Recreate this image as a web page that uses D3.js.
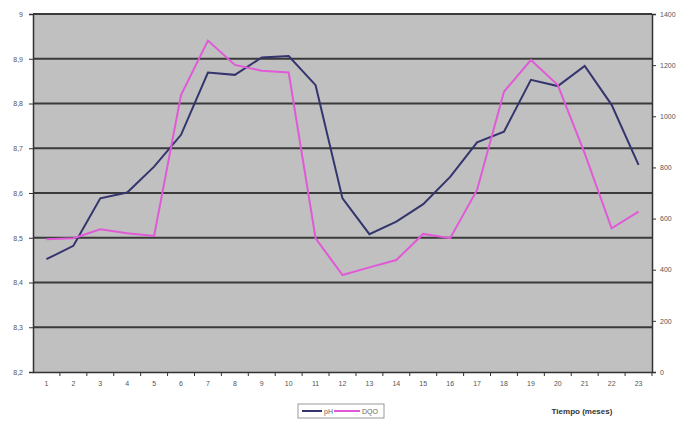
<!DOCTYPE html>
<html>
<head>
<meta charset="utf-8">
<script src="https://cdn.jsdelivr.net/npm/d3@7"></script>
<style>
  body { margin: 0; background: #fff; }
  svg { display: block; font-family: Arial, "Liberation Sans", sans-serif; }
</style>
</head>
<body>
<div id="graph"></div>
<script>
// Data ////////////////////////////////////////////////////////////////
const months = d3.range(1, 24);
const ph = [8.452, 8.482, 8.588, 8.601, 8.659, 8.730, 8.869, 8.864, 8.903, 8.906,
  8.841, 8.588, 8.508, 8.536, 8.575, 8.636, 8.713, 8.737, 8.853, 8.839, 8.884, 8.797, 8.663];
const dqo = [519, 523, 558, 543, 532, 1083, 1296, 1201, 1178, 1171,
  523, 379, 409, 438, 540, 523, 712, 1096, 1220, 1122, 855, 562, 627];
const leftTicks = [8.2, 8.3, 8.4, 8.5, 8.6, 8.7, 8.8, 8.9, 9];
const rightTicks = [0, 200, 400, 600, 800, 1000, 1200, 1400];
const seriesNames = ["pH", "DQO"];
const xTitle = "Tiempo (meses)";

// Constants ////////////////////////////////////////////////////////////////
const svgWidth = 680;
const svgHeight = 421;
const margin = { top: 14, right: 28, bottom: 49, left: 33 };
const plotW = svgWidth - margin.left - margin.right;
const plotH = svgHeight - margin.top - margin.bottom;

const svg = d3.select("#graph")
  .append("svg")
  .attr("width", svgWidth)
  .attr("height", svgHeight);

const x = d3.scaleBand().domain(months).range([margin.left, margin.left + plotW]);
const yL = d3.scaleLinear().domain([8.2, 9]).range([margin.top + plotH, margin.top]);
const yR = d3.scaleLinear().domain([0, 1400]).range([margin.top + plotH, margin.top]);

// Plot background
svg.append("rect")
  .attr("x", margin.left)
  .attr("y", margin.top)
  .attr("width", plotW)
  .attr("height", plotH)
  .style("fill", "#c0c0c0");

// Gridlines
svg.append("g")
  .selectAll("line")
  .data(leftTicks.slice(1))
  .join("line")
  .attr("x1", margin.left)
  .attr("x2", margin.left + plotW)
  .attr("y1", d => yL(d))
  .attr("y2", d => yL(d))
  .style("stroke", "#3a3a3a")
  .style("stroke-width", 2);

// Axes
const fmt = d => (d === 9 ? "9" : d3.format(".1f")(d).replace(".", ","));
const leftAxis = svg.append("g")
  .attr("transform", `translate(${margin.left},0)`)
  .call(d3.axisLeft(yL).tickValues(leftTicks).tickFormat(fmt).tickSize(4).tickPadding(6));

const rightAxis = svg.append("g")
  .attr("transform", `translate(${margin.left + plotW},0)`)
  .call(d3.axisRight(yR).tickValues(rightTicks).tickFormat(d3.format("d")).tickSize(4).tickPadding(4));

const bottomAxis = svg.append("g")
  .attr("transform", `translate(0,${margin.top + plotH})`)
  .call(d3.axisBottom(x).tickSize(0).tickPadding(9));

// ticks between categories
svg.append("g")
  .selectAll("line")
  .data(months)
  .join("line")
  .attr("x1", d => x(d) + x.bandwidth())
  .attr("x2", d => x(d) + x.bandwidth())
  .attr("y1", margin.top + plotH)
  .attr("y2", margin.top + plotH + 4)
  .style("stroke", "#333");

[leftAxis, rightAxis, bottomAxis].forEach(a => {
  a.selectAll("path").style("stroke", "#333").style("stroke-width", 1.5);
  a.selectAll("line").style("stroke", "#333");
  a.selectAll("text").style("font-size", "7px").style("fill", "#555");
});

// Lines
const cx = d => x(d) + x.bandwidth() / 2;
const phLine = d3.line().x((d, i) => cx(months[i])).y(d => yL(d));
const dqoLine = d3.line().x((d, i) => cx(months[i])).y(d => yR(d));

svg.append("path")
  .datum(ph)
  .attr("d", phLine)
  .style("fill", "none")
  .style("stroke", "#34346e")
  .style("stroke-width", 2);

svg.append("path")
  .datum(dqo)
  .attr("d", dqoLine)
  .style("fill", "none")
  .style("stroke", "#e05ad8")
  .style("stroke-width", 2);

// Legend
const legend = svg.append("g").attr("transform", "translate(298,404)");
legend.append("rect")
  .attr("width", 86)
  .attr("height", 14)
  .style("fill", "#fff")
  .style("stroke", "#999");
const items = [
  { name: seriesNames[0], color: "#34346e", x0: 4, len: 20 },
  { name: seriesNames[1], color: "#e05ad8", x0: 36, len: 26 }
];
items.forEach(it => {
  legend.append("line")
    .attr("x1", it.x0).attr("x2", it.x0 + it.len)
    .attr("y1", 7).attr("y2", 7)
    .style("stroke", it.color).style("stroke-width", 2);
  legend.append("text")
    .attr("x", it.x0 + it.len + 2)
    .attr("y", 10)
    .style("font-size", "7px")
    .style("fill", "#666")
    .text(it.name);
});

// X title
svg.append("text")
  .attr("x", 582)
  .attr("y", 414)
  .attr("text-anchor", "middle")
  .style("font-size", "8px")
  .style("font-weight", "bold")
  .style("fill", "#333")
  .text(xTitle);
</script>
</body>
</html>
